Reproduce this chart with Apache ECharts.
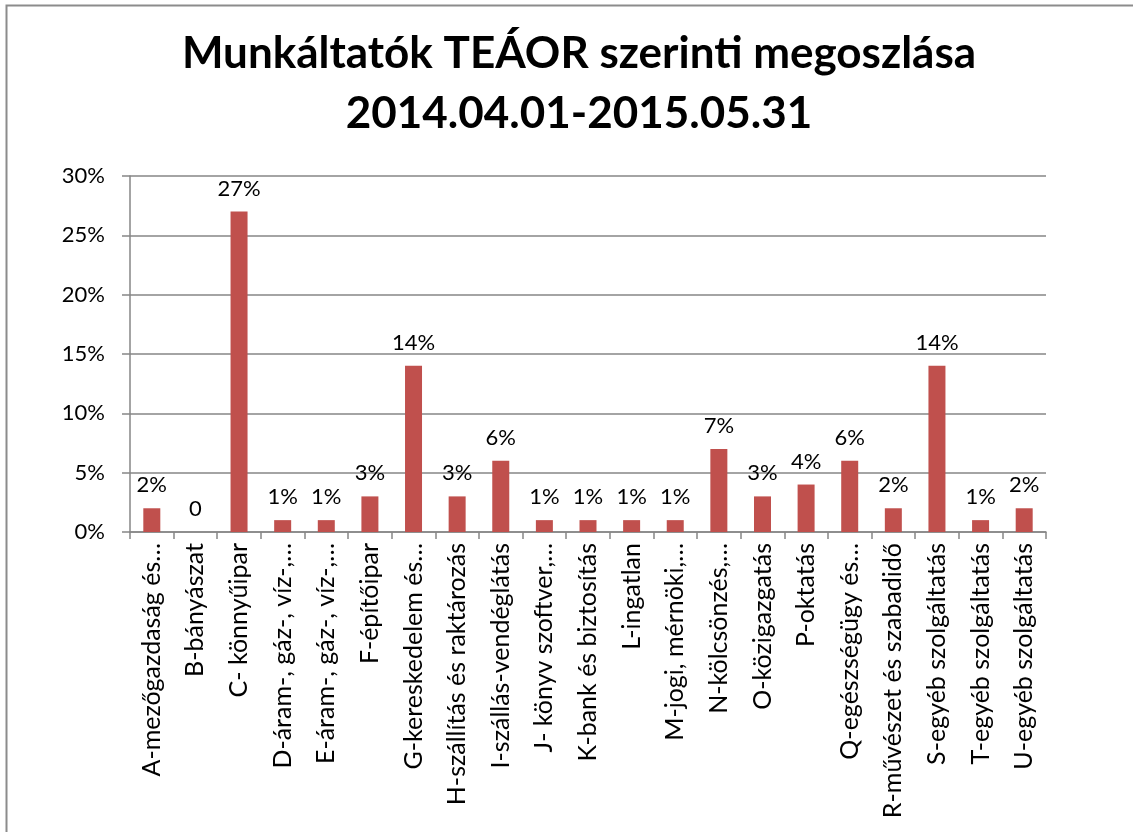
<!DOCTYPE html>
<html>
<head>
<meta charset="utf-8">
<script src="https://cdn.jsdelivr.net/npm/echarts@6/dist/echarts.min.js"></script>
<style>
  html, body { margin: 0; padding: 0; background: #fff; }
  #chart { width: 1133px; height: 832px; }
</style>
</head>
<body>
<div id="chart"></div>
<script>
const categories = [
  'A-mezőgazdaság és…', 'B-bányászat', 'C- könnyűipar', 'D-áram-, gáz-, víz-,…',
  'E-áram-, gáz-, víz-,…', 'F-építőipar', 'G-kereskedelem és…', 'H-szállítás és raktározás',
  'I-szállás-vendéglátás', 'J- könyv szoftver,…', 'K-bank és biztosítás', 'L-ingatlan',
  'M-jogi, mérnöki,…', 'N-kölcsönzés,…', 'O-közigazgatás', 'P-oktatás',
  'Q-egészségügy és…', 'R-művészet és szabadidő', 'S-egyéb szolgáltatás',
  'T-egyéb szolgáltatás', 'U-egyéb szolgáltatás'
];
const shares = [2, 0, 27, 1, 1, 3, 14, 3, 6, 1, 1, 1, 1, 7, 3, 4, 6, 2, 14, 1, 2];
const yTicks = [0, 5, 10, 15, 20, 25, 30];

const font = 'Lato, "Open Sans", sans-serif';
const chart = echarts.init(document.getElementById('chart'));

chart.setOption({
  animation: false,
  title: {
    text: 'Munkáltatók TEÁOR szerinti megoszlása\n2014.04.01-2015.05.31',
    left: 574,
    textAlign: 'center',
    top: 19,
    textStyle: { fontFamily: font, fontSize: 44, fontWeight: 'bold', color: '#000', lineHeight: 60 }
  },
  graphic: [{
    type: 'rect',
    shape: { x: 6.5, y: 5.5, width: 1140, height: 900 },
    style: { fill: null, stroke: '#8c8c8c', lineWidth: 2 },
    silent: true
  }],
  grid: { left: 130, right: 87, top: 176, bottom: 300 },
  xAxis: {
    type: 'category',
    data: categories,
    axisLine: { lineStyle: { color: '#868686', width: 1.5 } },
    axisTick: { show: true, length: 7, lineStyle: { color: '#868686', width: 1.5 } },
    axisLabel: {
      rotate: 90, interval: 0, margin: 11,
      fontFamily: font, fontSize: 25, color: '#000'
    }
  },
  yAxis: {
    type: 'value',
    min: yTicks[0],
    max: yTicks[yTicks.length - 1],
    interval: 5,
    axisLine: { show: true, lineStyle: { color: '#868686', width: 1.5 } },
    axisTick: { show: true, length: 8, lineStyle: { color: '#868686', width: 1.5 } },
    splitLine: { lineStyle: { color: '#868686', width: 1.5 } },
    axisLabel: {
      formatter: v => v + '%', margin: 25,
      fontFamily: font, fontSize: 22, color: '#000'
    }
  },
  series: [{
    type: 'bar',
    data: shares,
    barWidth: 17,
    itemStyle: { color: '#C0504D' },
    label: {
      show: true, position: 'top', distance: 12,
      formatter: p => p.value === 0 ? '0' : p.value + '%',
      fontFamily: font, fontSize: 22, color: '#000'
    }
  }]
});
</script>
</body>
</html>
